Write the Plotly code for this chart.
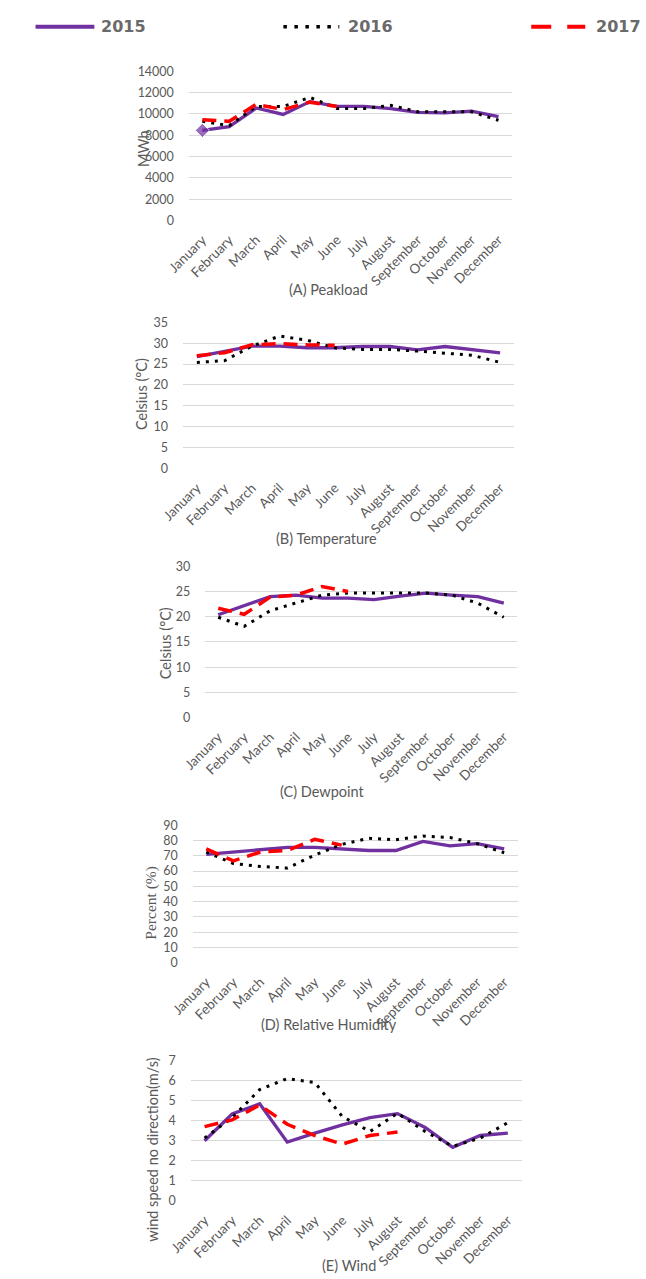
import plotly.graph_objects as go

W, H = 646, 1279

months = ["January", "February", "March", "April", "May", "June", "July",
          "August", "September", "October", "November", "December"]

# (A) Peak load, MWh
peak_2015 = [8450, 8800, 10550, 9950, 11150, 10700, 10700, 10500, 10150, 10100, 10250, 9750]
peak_2016 = [9300, 8900, 10700, 10700, 11550, 10500, 10500, 10800, 10200, 10200, 10200, 9400]
peak_2017 = [9450, 9300, 10900, 10400, 11100, 10700, None, None, None, None, None, None]

# (B) Temperature, °C
temp_2015 = [26.8, 28.1, 29.3, 29.3, 28.9, 28.9, 29.2, 29.2, 28.4, 29.2, 28.4, 27.7]
temp_2016 = [25.4, 25.8, 29.3, 31.7, 30.7, 28.9, 28.5, 28.5, 28.1, 27.6, 27.1, 25.4]
temp_2017 = [27.0, 27.7, 29.6, 29.9, 29.6, 29.5, None, None, None, None, None, None]

# (C) Dewpoint, °C
dew_2015 = [20.4, 22.2, 24.0, 24.3, 23.7, 23.7, 23.4, 24.1, 24.7, 24.3, 24.0, 22.7]
dew_2016 = [19.9, 18.1, 21.2, 22.8, 24.3, 24.7, 24.7, 24.7, 24.7, 24.3, 22.7, 19.9]
dew_2017 = [21.7, 20.5, 23.9, 24.3, 26.0, 25.0, None, None, None, None, None, None]

# (D) Relative humidity, %
rh_2015 = [71, 72.5, 74.5, 75.5, 75.5, 74.5, 73.5, 73.5, 79.5, 76.5, 78, 74.5]
rh_2016 = [72.5, 65, 63, 62, 70.5, 77.5, 81.5, 80.5, 83, 82, 78, 72]
rh_2017 = [74.5, 66.7, 72.5, 73.5, 80.8, 77, None, None, None, None, None, None]

# (E) Wind speed, m/s
wind_2015 = [3.0, 4.33, 4.84, 2.93, 3.38, 3.79, 4.15, 4.35, 3.66, 2.67, 3.26, 3.38]
wind_2016 = [3.13, 4.15, 5.55, 6.1, 5.9, 4.2, 3.46, 4.37, 3.46, 2.72, 3.13, 3.9]
wind_2017 = [3.7, 4.04, 4.78, 3.82, 3.25, 2.83, 3.26, 3.43, None, None, None, None]

PURPLE = "#7030A0"
RED = "#FF0000"
BLACK = "#000000"
GREY = "#595959"
GRID = "#D9D9D9"
SANS = "Lato, Open Sans, sans-serif"
TICK_FONT = dict(family=SANS, size=12.5, color=GREY)
MONTH_FONT = dict(family=SANS, size=13.5, color=GREY)


def fx(x):
    return x / W


def fy(y):
    return 1 - y / H


# per panel: series, plot box in pixels (left, right, top, bottom), y range, dtick,
# y title (text, x centre, y centre, font family, size), caption (text, x, y)
panels = [
    dict(series=(peak_2015, peak_2016, peak_2017), box=(172, 507, 64, 215), yr=14000, dt=2000,
         ytitle=("MWh", 125, 142, SANS, 14.5),
         caption=("(A) Peakload", 317, 285), marker=True),
    dict(series=(temp_2015, temp_2016, temp_2017), box=(166, 509, 318, 466), yr=35, dt=5,
         ytitle=("Celsius (°C)", 123, 391, SANS, 14.5),
         caption=("(B) Temperature", 315, 537), marker=False),
    dict(series=(dew_2015, dew_2016, dew_2017), box=(189, 512, 565, 718), yr=30, dt=5,
         ytitle=("Celsius (°C)", 148, 643, SANS, 14.5),
         caption=("(C) Dewpoint", 311, 793), marker=False),
    dict(series=(rh_2015, rh_2016, rh_2017), box=(176, 513, 827, 966), yr=90, dt=10,
         ytitle=("Percent (%)", 133, 905, "Liberation Serif, serif", 15.5),
         caption=("(D) Relative Humidity", 317, 1029), marker=False),
    dict(series=(wind_2015, wind_2016, wind_2017), box=(174, 517, 1065, 1207), yr=7, dt=1,
         ytitle=("wind speed no direction(m/s)", 134, 1155, SANS, 14.5),
         caption=("(E) Wind", 338, 1272), marker=False),
]

fig = go.Figure()
annotations = []
layout_axes = {}

for i, p in enumerate(panels, start=1):
    xa = "x" if i == 1 else f"x{i}"
    ya = "y" if i == 1 else f"y{i}"
    s15, s16, s17 = p["series"]
    left, right, top, bottom = p["box"]

    fig.add_trace(go.Scatter(
        x=months, y=s15, mode="lines+markers" if p["marker"] else "lines",
        line=dict(color=PURPLE, width=3.3), xaxis=xa, yaxis=ya, showlegend=False, name="2015",
        marker=dict(symbol="diamond", color=PURPLE,
                    size=[11] + [0] * 11) if p["marker"] else None,
    ))
    fig.add_trace(go.Scatter(
        x=months, y=s16, mode="lines", line=dict(color=BLACK, width=3, dash="3px,6px"),
        xaxis=xa, yaxis=ya, showlegend=False, name="2016",
    ))
    fig.add_trace(go.Scatter(
        x=months, y=s17, mode="lines", line=dict(color=RED, width=3.5, dash="14px,8px"),
        xaxis=xa, yaxis=ya, showlegend=False, name="2017",
    ))

    xkey = "xaxis" if i == 1 else f"xaxis{i}"
    ykey = "yaxis" if i == 1 else f"yaxis{i}"
    layout_axes[xkey] = dict(
        domain=[fx(left), fx(right)], anchor=ya, type="category",
        range=[-0.5, 11.5], showgrid=False, zeroline=False, showline=False,
        ticks="", tickangle=-45, tickfont=MONTH_FONT, ticklabelstandoff=8,
        fixedrange=True,
    )
    layout_axes[ykey] = dict(
        domain=[fy(bottom), fy(top)], anchor=xa, range=[0, p["yr"]], dtick=p["dt"],
        tick0=0, tickformat="d", showgrid=True, gridcolor=GRID, gridwidth=1, zeroline=False,
        showline=False, ticks="", tickfont=TICK_FONT, ticklabelstandoff=14,
        fixedrange=True,
    )

    t, tx, ty, fam, fs = p["ytitle"]
    annotations.append(dict(
        text=t, x=fx(tx), y=fy(ty), xref="paper", yref="paper", showarrow=False,
        textangle=-90, xanchor="center", yanchor="middle",
        font=dict(family=fam, size=fs, color=GREY),
    ))
    c, cx, cy = p["caption"]
    annotations.append(dict(
        text=c, x=fx(cx), y=fy(cy), xref="paper", yref="paper", showarrow=False,
        xanchor="center", yanchor="middle",
        font=dict(family=SANS, size=14.5, color=GREY),
    ))

# legend row across the top
LEG_Y = 19
LEG_FONT = dict(family="DejaVu Sans, sans-serif", size=16, color="#6a6a6a")
shapes = [
    dict(type="line", xref="paper", yref="paper", x0=fx(13), x1=fx(74),
         y0=fy(LEG_Y), y1=fy(LEG_Y), line=dict(color=PURPLE, width=4)),
    dict(type="line", xref="paper", yref="paper", x0=fx(270), x1=fx(328),
         y0=fy(LEG_Y), y1=fy(LEG_Y), line=dict(color=BLACK, width=3.5, dash="3.5px,7.5px")),
    dict(type="line", xref="paper", yref="paper", x0=fx(527), x1=fx(583),
         y0=fy(LEG_Y), y1=fy(LEG_Y), line=dict(color=RED, width=4, dash="20px,16px")),
]
for label, lx in (("2015", 79), ("2016", 335), ("2017", 592)):
    annotations.append(dict(
        text=f"<b>{label}</b>", x=fx(lx), y=fy(LEG_Y), xref="paper", yref="paper",
        showarrow=False, xanchor="left", yanchor="middle", font=LEG_FONT,
    ))

fig.update_layout(
    width=W, height=H, margin=dict(l=0, r=0, t=0, b=0),
    paper_bgcolor="white", plot_bgcolor="white",
    showlegend=False, annotations=annotations, shapes=shapes,
    **layout_axes,
)

fig.write_html("out.html", config=dict(displayModeBar=False))
